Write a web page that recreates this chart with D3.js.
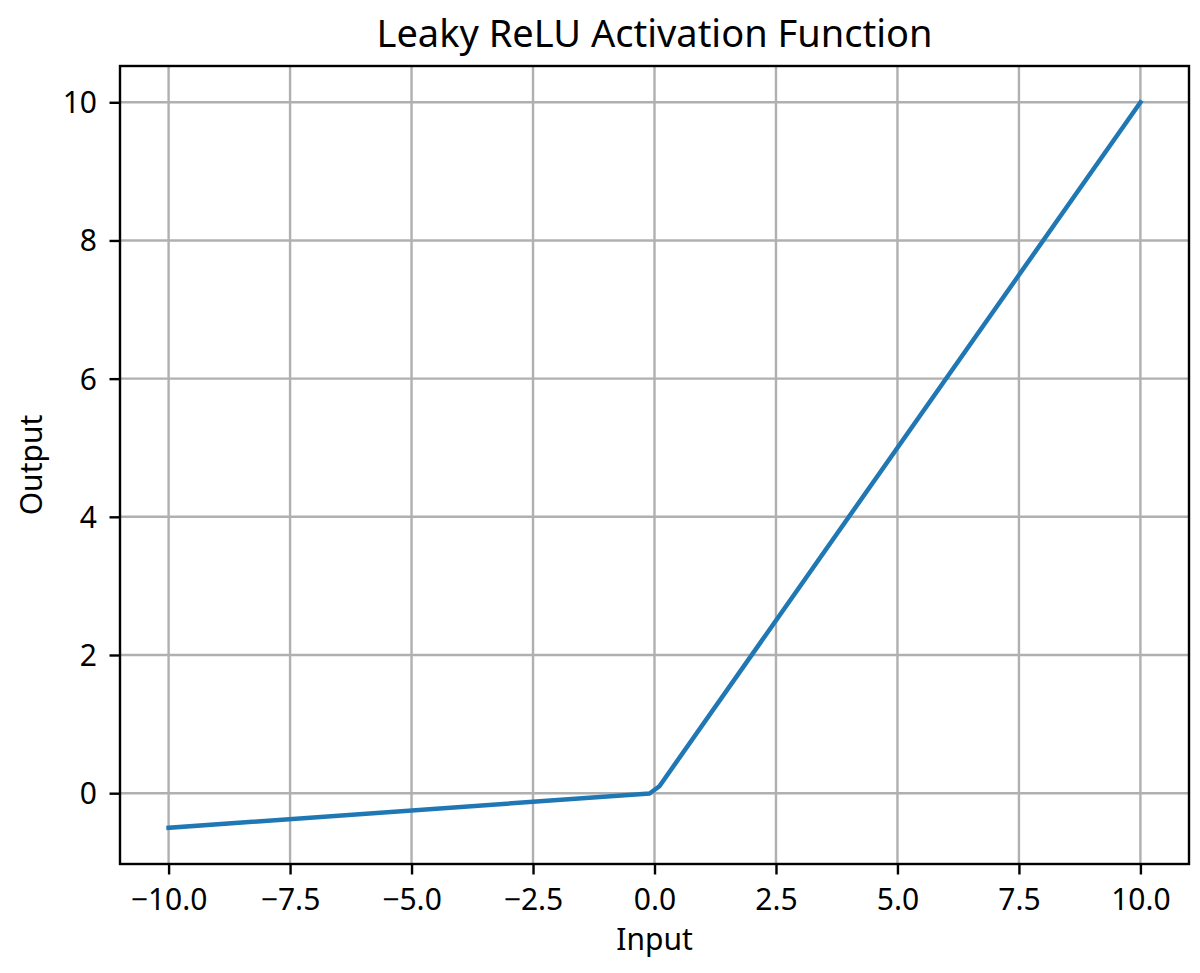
<!DOCTYPE html>
<html>
<head>
<meta charset="utf-8">
<script src="https://cdn.jsdelivr.net/npm/d3@7"></script>
<style>
  html, body { margin: 0; padding: 0; background: #fff; }
  svg text { font-family: "Noto Sans", "Open Sans", sans-serif; fill: #000; }
</style>
</head>
<body>
<svg id="chart" width="1200" height="973"></svg>
<script>
// Data
const inputX = [-10, -0.101, 0.101, 10];
const outputY = [-0.5, -0.00505, 0.101, 10];
const xTicks = [-10, -7.5, -5, -2.5, 0, 2.5, 5, 7.5, 10];
const yTicks = [0, 2, 4, 6, 8, 10];
const titleText = "Leaky ReLU Activation Function";
const xLabel = "Input";
const yLabel = "Output";

const svg = d3.select("#chart");
const plot = { left: 120, right: 1189, top: 66, bottom: 864 };

const x = d3.scaleLinear().domain([-11, 11]).range([plot.left, plot.right]);
const y = d3.scaleLinear().domain([-1.025, 10.525]).range([plot.bottom, plot.top]);

const minus = s => s.replace(/-/g, "\u2212");

// Grid
const grid = svg.append("g").attr("stroke", "#b0b0b0").attr("stroke-width", 2.4);
grid.selectAll("line.vx").data(xTicks).join("line")
  .attr("x1", d => x(d)).attr("x2", d => x(d))
  .attr("y1", plot.top).attr("y2", plot.bottom);
grid.selectAll("line.hy").data(yTicks).join("line")
  .attr("x1", plot.left).attr("x2", plot.right)
  .attr("y1", d => y(d)).attr("y2", d => y(d));

// Line
const pts = inputX.map((v, i) => [v, outputY[i]]);
svg.append("path")
  .datum(pts)
  .attr("fill", "none")
  .attr("stroke", "#1f77b4")
  .attr("stroke-width", 4.5)
  .attr("stroke-linejoin", "round")
  .attr("stroke-linecap", "square")
  .attr("d", d3.line().x(d => x(d[0])).y(d => y(d[1])));

// Axes via d3
const xAxis = d3.axisBottom(x).tickValues(xTicks).tickSize(10.5).tickPadding(10)
  .tickFormat(d => minus(d3.format(".1f")(d)));
const yAxis = d3.axisLeft(y).tickValues(yTicks).tickSize(10.5).tickPadding(10)
  .tickFormat(d => minus(d3.format("d")(d)));

const gx = svg.append("g").attr("transform", `translate(0,${plot.bottom})`).call(xAxis);
const gy = svg.append("g").attr("transform", `translate(${plot.left},0)`).call(yAxis);
[gx, gy].forEach(g => {
  g.select(".domain").remove();
  g.selectAll(".tick line").attr("stroke", "#000").attr("stroke-width", 2.4);
  g.selectAll(".tick text").attr("font-size", 30).attr("fill", "#000")
    .style("font-family", '"Noto Sans", "Open Sans", sans-serif');
});
gx.selectAll(".tick text").attr("dy", null).attr("y", 45.5);
gy.selectAll(".tick text").attr("dy", null).attr("y", 10.5).attr("x", -23);

// Spines
svg.append("rect")
  .attr("x", plot.left).attr("y", plot.top)
  .attr("width", plot.right - plot.left).attr("height", plot.bottom - plot.top)
  .attr("fill", "none").attr("stroke", "#000").attr("stroke-width", 2.4);

// Title and labels
svg.append("text").attr("x", (plot.left + plot.right) / 2).attr("y", 47)
  .attr("text-anchor", "middle").attr("font-size", 38).text(titleText);
svg.append("text").attr("x", (plot.left + plot.right) / 2).attr("y", 950)
  .attr("text-anchor", "middle").attr("font-size", 30).text(xLabel);
svg.append("text")
  .attr("transform", `translate(42,${(plot.top + plot.bottom) / 2}) rotate(-90)`)
  .attr("text-anchor", "middle").attr("font-size", 30).text(yLabel);
</script>
</body>
</html>
